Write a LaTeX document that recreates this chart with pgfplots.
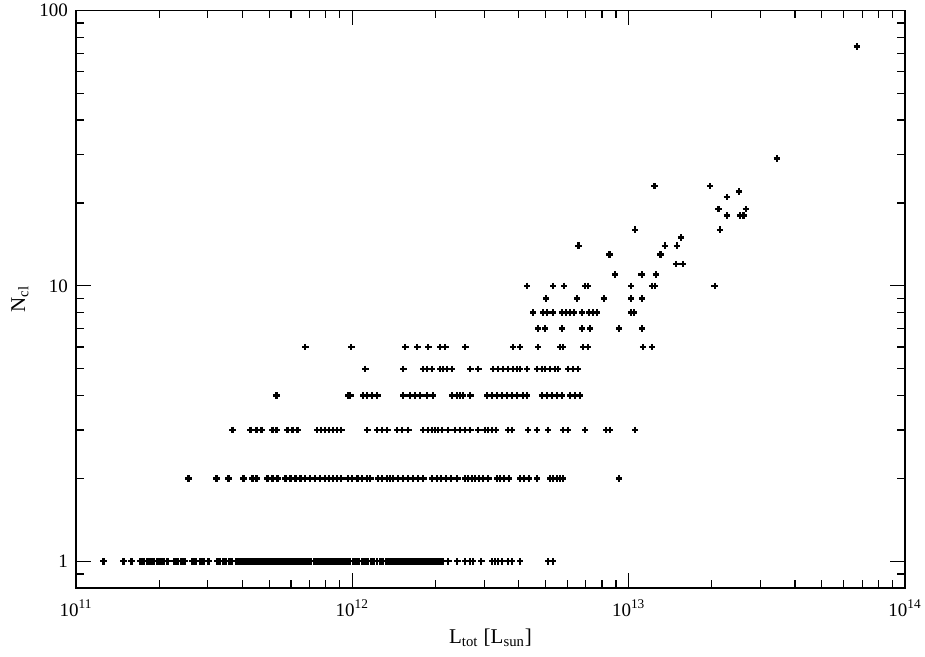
\documentclass[border=0pt]{standalone}
\usepackage{fontspec}
\setmainfont{Liberation Serif}
\usepackage{pgfplots}
\pgfplotsset{compat=1.18}
\usetikzlibrary{calc}

\begin{document}
\begin{tikzpicture}
\begin{loglogaxis}[name=ax, scale only axis, width=414.5pt, height=288.75pt,
  xmin=1e11, xmax=1e14, ymin=0.8, ymax=100,
  xtick={1e11,1e12,1e13,1e14},
  xticklabels={10\textsuperscript{11},10\textsuperscript{12},10\textsuperscript{13},10\textsuperscript{14}},
  minor xtick={2e11,3e11,4e11,5e11,6e11,7e11,8e11,9e11,2e12,3e12,4e12,5e12,6e12,7e12,8e12,9e12,2e13,3e13,4e13,5e13,6e13,7e13,8e13,9e13},
  ytick={1,10,100}, yticklabels={1,10,100},
  minor ytick={0.9,2,3,4,5,6,7,8,9,20,30,40,50,60,70,80,90},
  tick align=inside, major tick length=7.5pt, minor tick length=4pt,
  axis line style={line width=0.65pt},
  tick style={black, line width=0.6pt},
  tick label style={font=\fontsize{9.5}{11}\selectfont},
  xticklabel style={yshift=-2.5pt},
  yticklabel style={xshift=-0.5pt},
  xlabel={L\textsubscript{tot} [L\textsubscript{sun}]},
  ylabel={N\textsubscript{cl}},
  every axis x label/.style={at={(rel axis cs:0.5,0)}, anchor=north, yshift=-17pt, font=\fontsize{10.5}{12}\selectfont},
  every axis y label/.style={at={(rel axis cs:0,0.5)}, rotate=90, anchor=center, yshift=28pt, font=\fontsize{10.5}{12}\selectfont},
  pts/.style={only marks, mark=+, black, mark size=1.6pt, line width=1.1pt},
]
% N = 1
\addplot[pts] coordinates {
(1.257e11,1) (1.485e11,1) (1.588e11,1) (1.711e11,1) (1.754e11,1) (1.814e11,1) (1.860e11,1) (1.907e11,1)
(1.971e11,1) (2.021e11,1) (2.072e11,1) (2.143e11,1) (2.271e11,1) (2.329e11,1) (2.408e11,1) (2.468e11,1)
(2.638e11,1) (2.705e11,1) (2.820e11,1) (2.892e11,1) (3.014e11,1)
(3.25e11,1) (3.33e11,1) (3.42e11,1) (3.50e11,1) (3.59e11,1) (3.68e11,1) (3.78e11,1) (3.87e11,1) (3.97e11,1)
(4.07e11,1) (4.17e11,1) (4.28e11,1) (4.39e11,1) (4.50e11,1) (4.61e11,1) (4.73e11,1) (4.85e11,1) (4.97e11,1)
(5.10e11,1) (5.23e11,1) (5.36e11,1) (5.49e11,1) (5.63e11,1) (5.78e11,1) (5.92e11,1) (6.07e11,1) (6.23e11,1)
(6.38e11,1) (6.55e11,1) (6.71e11,1) (6.88e11,1) (7.06e11,1) (7.24e11,1) (7.42e11,1) (7.61e11,1) (7.80e11,1)
(8.00e11,1) (8.20e11,1) (8.41e11,1) (8.62e11,1) (8.84e11,1) (9.06e11,1) (9.29e11,1) (9.53e11,1) (9.77e11,1)
(1.002e12,1) (1.027e12,1) (1.053e12,1) (1.080e12,1) (1.107e12,1) (1.135e12,1) (1.164e12,1) (1.193e12,1)
(1.224e12,1) (1.255e12,1) (1.286e12,1) (1.319e12,1) (1.352e12,1) (1.386e12,1) (1.421e12,1) (1.457e12,1)
(1.494e12,1) (1.532e12,1) (1.571e12,1) (1.610e12,1) (1.651e12,1) (1.693e12,1) (1.736e12,1) (1.780e12,1)
(1.825e12,1) (1.871e12,1) (1.918e12,1) (1.967e12,1) (2.016e12,1) (2.067e12,1) (2.120e12,1)
(2.224e12,1) (2.398e12,1) (2.563e12,1) (2.672e12,1) (2.739e12,1) (2.928e12,1) (3.207e12,1) (3.290e12,1)
(3.373e12,1) (3.485e12,1) (3.666e12,1) (3.787e12,1) (4.052e12,1) (5.115e12,1) (5.333e12,1)
};
% N = 2
\addplot[pts] coordinates {
(2.552e11,2) (3.222e11,2) (3.561e11,2) (4.035e11,2) (4.349e11,2) (4.496e11,2) (4.927e11,2) (5.137e11,2)
(5.355e11,2) (5.724e11,2) (5.967e11,2) (6.221e11,2) (6.486e11,2) (6.761e11,2) (7.049e11,2) (7.348e11,2)
(7.661e11,2) (7.987e11,2) (8.257e11,2) (8.537e11,2) (8.826e11,2) (9.125e11,2) (9.672e11,2) (1.000e12,2)
(1.043e12,2) (1.087e12,2) (1.133e12,2) (1.162e12,2) (1.242e12,2) (1.284e12,2) (1.338e12,2) (1.372e12,2)
(1.407e12,2) (1.467e12,2) (1.529e12,2) (1.594e12,2) (1.662e12,2) (1.733e12,2) (1.806e12,2) (1.946e12,2)
(2.030e12,2) (2.099e12,2) (2.188e12,2) (2.281e12,2) (2.398e12,2) (2.563e12,2) (2.627e12,2) (2.715e12,2)
(2.785e12,2) (2.880e12,2) (2.977e12,2) (3.104e12,2) (3.345e12,2) (3.430e12,2) (3.546e12,2) (3.697e12,2)
(4.052e12,2) (4.189e12,2) (4.367e12,2) (4.668e12,2) (5.201e12,2) (5.333e12,2) (5.513e12,2) (5.653e12,2)
(5.796e12,2) (9.239e12,2)
};
% N = 3
\addplot[pts] coordinates {
(3.681e11,3) (4.277e11,3) (4.496e11,3) (4.687e11,3) (5.137e11,3) (5.311e11,3) (5.820e11,3) (6.068e11,3)
(6.326e11,3) (7.472e11,3) (7.725e11,3) (7.987e11,3) (8.257e11,3) (8.537e11,3) (8.826e11,3) (9.125e11,3)
(1.133e12,3) (1.231e12,3) (1.284e12,3) (1.338e12,3) (1.455e12,3) (1.516e12,3) (1.594e12,3) (1.806e12,3)
(1.883e12,3) (1.946e12,3) (1.996e12,3) (2.047e12,3) (2.115e12,3) (2.224e12,3) (2.358e12,3) (2.458e12,3)
(2.563e12,3) (2.672e12,3) (2.856e12,3) (3.027e12,3) (3.104e12,3) (3.207e12,3) (3.317e12,3) (3.666e12,3)
(3.787e12,3) (4.330e12,3) (4.668e12,3) (5.115e12,3) (5.796e12,3) (6.042e12,3) (6.961e12,3) (8.291e12,3)
(8.572e12,3) (1.056e13,3)
};
% N = 4
\addplot[pts] coordinates {
(5.311e11,4) (9.672e11,4) (9.835e11,4) (1.096e12,4) (1.133e12,4) (1.181e12,4) (1.231e12,4) (1.529e12,4)
(1.621e12,4) (1.690e12,4) (1.762e12,4) (1.868e12,4) (1.963e12,4) (2.299e12,4) (2.398e12,4) (2.458e12,4)
(2.520e12,4) (2.672e12,4) (3.078e12,4) (3.207e12,4) (3.345e12,4) (3.485e12,4) (3.636e12,4) (3.787e12,4)
(3.951e12,4) (4.154e12,4) (4.295e12,4) (4.862e12,4) (5.073e12,4) (5.283e12,4) (5.513e12,4) (5.742e12,4)
(6.144e12,4) (6.405e12,4) (6.677e12,4)
};
% N = 5
\addplot[pts] coordinates {
(1.114e12,5) (1.529e12,5) (1.806e12,5) (1.868e12,5) (1.946e12,5) (2.081e12,5) (2.134e12,5) (2.206e12,5)
(2.299e12,5) (2.672e12,5) (2.856e12,5) (3.236e12,5) (3.373e12,5) (3.516e12,5) (3.666e12,5) (3.822e12,5)
(3.951e12,5) (4.052e12,5) (4.295e12,5) (4.668e12,5) (4.862e12,5) (4.989e12,5) (5.201e12,5) (5.422e12,5)
(5.559e12,5) (6.042e12,5) (6.299e12,5) (6.567e12,5)
};
% N = 6
\addplot[pts] coordinates {
(6.761e11,6) (9.917e11,6) (1.555e12,6) (1.718e12,6) (1.883e12,6) (2.081e12,6) (2.170e12,6) (2.563e12,6)
(3.822e12,6) (4.052e12,6) (4.707e12,6) (5.653e12,6) (5.796e12,6) (6.846e12,6) (7.137e12,6) (1.128e13,6)
(1.216e13,6)
};
% N = 7 ... 9
\addplot[pts] coordinates {
(4.707e12,7) (4.989e12,7) (5.742e12,7) (6.782e12,7) (7.257e12,7) (9.239e12,7) (1.119e13,7)
(4.515e12,8) (4.907e12,8) (5.073e12,8) (5.333e12,8) (5.742e12,8) (5.943e12,8) (6.144e12,8) (6.352e12,8)
(6.782e12,8) (7.197e12,8) (7.441e12,8) (7.693e12,8) (1.021e13,8) (1.047e13,8)
(5.031e12,9) (6.512e12,9) (8.121e12,9) (1.021e13,9) (1.119e13,9)
};
% N >= 10
\addplot[pts] coordinates {
(4.295e12,10) (5.333e12,10) (5.844e12,10) (6.961e12,10) (7.137e12,10) (1.021e13,10) (1.216e13,10)
(1.247e13,10) (2.047e13,10)
(8.937e12,11) (1.114e13,11) (1.254e13,11)
(1.485e13,12) (1.568e13,12)
(8.523e12,13) (1.303e13,13)
(6.583e12,14) (1.350e13,14) (1.494e13,14)
(1.548e13,15)
(1.056e13,16) (2.143e13,16)
(2.266e13,18) (2.531e13,18) (2.601e13,18)
(2.113e13,19) (2.654e13,19)
(2.266e13,21)
(2.510e13,22)
(1.240e13,23) (1.971e13,23)
(3.435e13,29)
(6.688e13,74)
};
\end{loglogaxis}
\pgfresetboundingbox
\useasboundingbox ($(ax.south west)+(-38pt,-34.5pt)$) rectangle ($(ax.north east)+(10pt,5.25pt)$);
\end{tikzpicture}
\end{document}
